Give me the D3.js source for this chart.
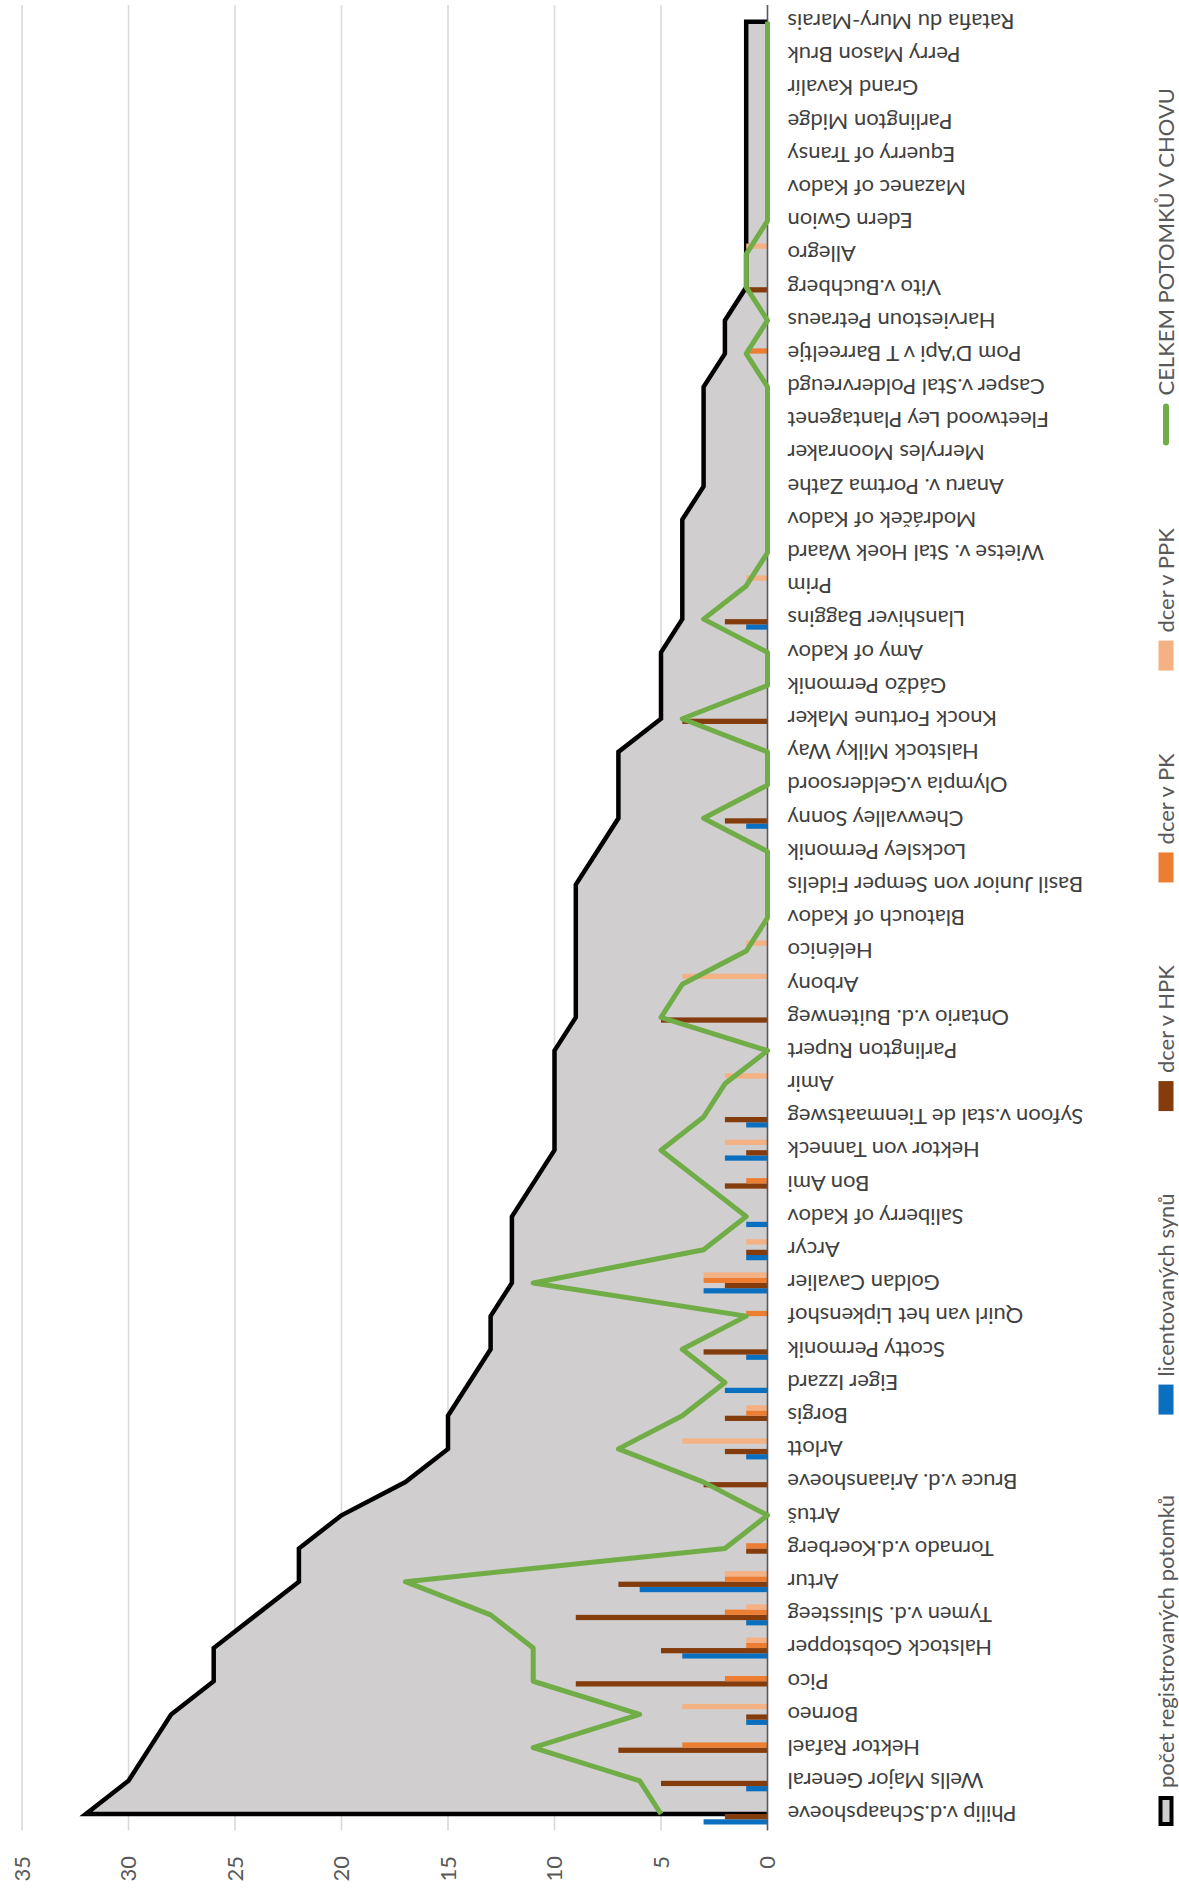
<!DOCTYPE html>
<html>
<head>
<meta charset="utf-8">
<script src="https://cdn.jsdelivr.net/npm/d3@7"></script>
<style>
  body { margin: 0; background: #fff; }
  svg { display: block; }
  text { font-family: Lato, "Liberation Sans", sans-serif; }
</style>
</head>
<body>
<div id="chart"></div>
<script>
const categories = [
  "Philip v.d.Schaapshoeve", "Wells Major General", "Hektor Rafael", "Borneo", "Pico",
  "Halstock Gobstopper", "Tymen v.d. Sluissteeg", "Artur", "Tornado v.d.Koerberg", "Artuš",
  "Bruce v.d. Ariaanshoeve", "Arlott", "Borgis", "Eiger Izzard", "Scotty Permonik",
  "Quirl van het Lipkenshof", "Goldan Cavalier", "Arcyr", "Saliberry of Kadov", "Bon Ami",
  "Hektor von Tanneck", "Syfoon v.stal de Tienmaatsweg", "Amir", "Parlington Rupert", "Ontario v.d. Buitenweg",
  "Arbony", "Helénico", "Blatouch of Kadov", "Basil Junior von Semper Fidelis", "Locksley Permonik",
  "Chewvalley Sonny", "Olympia v.Geldersoord", "Halstock Milky Way", "Knock Fortune Maker", "Gádžo Permonik",
  "Amy of Kadov", "Llanshiver Baggins", "Prim", "Wietse v. Stal Hoek Waard", "Modráček of Kadov",
  "Anaru v. Portma Zathe", "Merryles Moonraker", "Fleetwood Ley Plantagenet", "Casper v.Stal Poldervreugd", "Pom D'Api v T Barreeltje",
  "Harviestoun Petraeus", "Vito v.Buchberg", "Allegro", "Edern Gwion", "Mazanec of Kadov",
  "Equerry of Transy", "Parlington Midge", "Grand Kavalír", "Perry Mason Bruk", "Ratafia du Mury-Marais"
];

// počet registrovaných potomků (area)
const registrovanych = [
  32, 30, 29, 28, 26, 26, 24, 22, 22, 20,
  17, 15, 15, 14, 13, 13, 12, 12, 12, 11,
  10, 10, 10, 10, 9, 9, 9, 9, 9, 8,
  7, 7, 7, 5, 5, 5, 4, 4, 4, 4,
  3, 3, 3, 3, 2, 2, 1, 1, 1, 1,
  1, 1, 1, 1, 1
];
// licentovaných synů
const synu = [
  3, 1, 0, 1, 0, 4, 1, 6, 0, 0,
  0, 1, 0, 2, 1, 0, 3, 1, 1, 0,
  2, 1, 0, 0, 0, 0, 0, 0, 0, 0,
  1, 0, 0, 0, 0, 0, 1, 0, 0, 0,
  0, 0, 0, 0, 0, 0, 0, 0, 0, 0,
  0, 0, 0, 0, 0
];
// dcer v HPK
const dcerHPK = [
  2, 5, 7, 1, 9, 5, 9, 7, 1, 0,
  3, 2, 2, 0, 3, 0, 2, 1, 0, 2,
  1, 2, 0, 0, 5, 0, 0, 0, 0, 0,
  2, 0, 0, 4, 0, 0, 2, 0, 0, 0,
  0, 0, 0, 0, 0, 0, 1, 0, 0, 0,
  0, 0, 0, 0, 0
];
// dcer v PK
const dcerPK = [
  0, 0, 4, 0, 2, 1, 2, 2, 1, 0,
  0, 0, 1, 0, 0, 1, 3, 0, 0, 1,
  0, 0, 0, 0, 0, 0, 0, 0, 0, 0,
  0, 0, 0, 0, 0, 0, 0, 0, 0, 0,
  0, 0, 0, 0, 1, 0, 0, 0, 0, 0,
  0, 0, 0, 0, 0
];
// dcer v PPK
const dcerPPK = [
  0, 0, 0, 4, 0, 1, 1, 2, 0, 0,
  0, 4, 1, 0, 0, 0, 3, 1, 0, 0,
  2, 0, 2, 0, 0, 4, 1, 0, 0, 0,
  0, 0, 0, 0, 0, 0, 0, 1, 0, 0,
  0, 0, 0, 0, 0, 0, 0, 1, 0, 0,
  0, 0, 0, 0, 0
];
// CELKEM POTOMKŮ V CHOVU (line)
const celkem = [
  5, 6, 11, 6, 11, 11, 13, 17, 2, 0,
  3, 7, 4, 2, 4, 1, 11, 3, 1, 3,
  5, 3, 2, 0, 5, 4, 1, 0, 0, 0,
  3, 0, 0, 4, 0, 0, 3, 1, 0, 0,
  0, 0, 0, 0, 1, 0, 1, 1, 0, 0,
  0, 0, 0, 0, 0
];
const valueTicks = [0, 5, 10, 15, 20, 25, 30, 35];

const barSeries = [
  {name: "licentovaných synů", values: synu, color: "#0b6fc0"},
  {name: "dcer v HPK", values: dcerHPK, color: "#843c0c"},
  {name: "dcer v PK", values: dcerPK, color: "#ed7d31"},
  {name: "dcer v PPK", values: dcerPPK, color: "#f4b183"}
];

const W = 1179, H = 1894;
// the chart is laid out in its landscape frame (H wide, W tall) and turned 90° counter-clockwise
const svg = d3.select("#chart").append("svg")
  .attr("width", W)
  .attr("height", H);

svg.append("rect").attr("width", W).attr("height", H).attr("fill", "#fff");

const g = svg.append("g")
  .attr("transform", `translate(0,${H}) rotate(-90)`);

const x = d3.scaleBand()
  .domain(categories)
  .range([63.4, 1888.9]);

const y = d3.scaleLinear()
  .domain([0, 35])
  .range([767.5, 22]);

const cx = c => x(c) + x.bandwidth() / 2;

// gridlines
g.append("g")
  .selectAll("line")
  .data(valueTicks.filter(t => t > 0))
  .enter()
  .append("line")
  .attr("x1", x.range()[0])
  .attr("x2", x.range()[1])
  .attr("y1", d => y(d))
  .attr("y2", d => y(d))
  .attr("stroke", "#d9d9d9")
  .attr("stroke-width", 1.6);

// area
const areaData = categories.map((c, i) => ({c, v: registrovanych[i]}));
const area = d3.area()
  .x(d => cx(d.c))
  .y0(y(0))
  .y1(d => y(d.v));

g.append("path")
  .datum(areaData)
  .attr("fill", "#d0cece")
  .attr("d", area);

// outline of the area, without the baseline
const outline = [{c: categories[0], v: 0}, ...areaData, {c: categories[categories.length - 1], v: 0}];
g.append("path")
  .datum(outline)
  .attr("fill", "none")
  .attr("stroke", "#000")
  .attr("stroke-width", 4.5)
  .attr("d", d3.line().x(d => cx(d.c)).y(d => y(d.v)));

// clustered bars
const groupWidth = 21;
const sub = d3.scaleBand()
  .domain(barSeries.map(s => s.name))
  .range([-groupWidth / 2, groupWidth / 2]);

barSeries.forEach(s => {
  g.append("g")
    .selectAll("rect")
    .data(categories.map((c, i) => ({c, v: s.values[i]})).filter(d => d.v > 0))
    .enter()
    .append("rect")
    .attr("x", d => cx(d.c) + sub(s.name))
    .attr("width", sub.bandwidth())
    .attr("y", d => y(d.v))
    .attr("height", d => y(0) - y(d.v))
    .attr("fill", s.color);
});

// value axis line
g.append("line")
  .attr("x1", x.range()[0])
  .attr("x2", x.range()[1])
  .attr("y1", y(0))
  .attr("y2", y(0))
  .attr("stroke", "#595959")
  .attr("stroke-width", 1.6);

// line series
g.append("path")
  .datum(categories.map((c, i) => ({c, v: celkem[i]})))
  .attr("fill", "none")
  .attr("stroke", "#70ad47")
  .attr("stroke-width", 5)
  .attr("stroke-linejoin", "round")
  .attr("d", d3.line().x(d => cx(d.c)).y(d => y(d.v)));

// value tick labels
g.append("g")
  .selectAll("text")
  .data(valueTicks)
  .enter()
  .append("text")
  .attr("x", 38)
  .attr("y", d => y(d))
  .attr("dy", "0.35em")
  .attr("text-anchor", "end")
  .attr("font-size", 22)
  .attr("fill", "#595959")
  .text(d => d);

// category labels
g.append("g")
  .selectAll("text")
  .data(categories)
  .enter()
  .append("text")
  .attr("transform", d => `translate(${cx(d)},${y(0) + 20}) rotate(-90)`)
  .attr("dy", "0.35em")
  .attr("text-anchor", "end")
  .attr("font-size", 22)
  .attr("fill", "#404040")
  .text(d => d);

// legend
const legendItems = [
  {name: "počet registrovaných potomků", type: "area"},
  ...barSeries.map(s => ({name: s.name, type: "bar", color: s.color})),
  {name: "CELKEM POTOMKŮ V CHOVU", type: "line", color: "#70ad47"}
];
const legendY = 1166, keyW = 30, keyH = 15, lineW = 42, keyGap = 8;
const legendStart = 68, legendEnd = 1803;
const legend = g.append("g");
const items = legend.selectAll("g")
  .data(legendItems)
  .enter()
  .append("g");

items.append("text")
  .attr("x", d => (d.type === "line" ? lineW : keyW) + keyGap)
  .attr("y", legendY)
  .attr("dy", "0.35em")
  .attr("font-size", 22)
  .attr("fill", "#595959")
  .text(d => d.name);

items.each(function(d) {
  const it = d3.select(this);
  if (d.type === "area") {
    it.append("rect").attr("x", 2).attr("y", legendY - keyH / 2 + 2)
      .attr("width", keyW - 4).attr("height", keyH - 4)
      .attr("fill", "#d0cece").attr("stroke", "#000").attr("stroke-width", 4);
  } else if (d.type === "bar") {
    it.append("rect").attr("x", 0).attr("y", legendY - keyH / 2)
      .attr("width", keyW).attr("height", keyH).attr("fill", d.color);
  } else {
    it.append("line").attr("x1", 3).attr("x2", lineW - 3).attr("y1", legendY).attr("y2", legendY)
      .attr("stroke", d.color).attr("stroke-width", 6).attr("stroke-linecap", "round");
  }
});

// spread the items over the legend span
let widths = [];
items.each(function() { widths.push(this.getBBox().width); });
const itemGap = (legendEnd - legendStart - d3.sum(widths)) / (widths.length - 1);
let pos = legendStart;
items.attr("transform", (d, i) => {
  const t = `translate(${pos},0)`;
  pos += widths[i] + itemGap;
  return t;
});
</script>
</body>
</html>
